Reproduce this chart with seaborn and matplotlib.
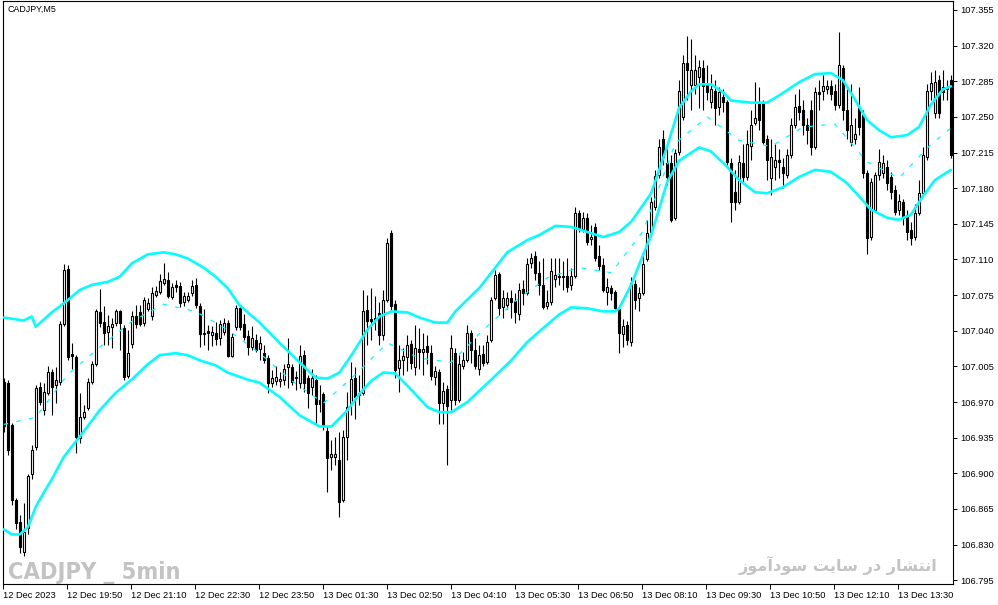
import numpy as np
import pandas as pd
import matplotlib
matplotlib.use("Agg")
import matplotlib.pyplot as plt
import seaborn as sns

# ---------------- data (CADJPY, M5) ----------------
open_ = [
 106.990, 106.989, 106.947, 106.874, 106.852, 106.823, 106.846, 106.899, 106.926, 106.985,
 106.962, 106.979, 106.999, 106.987, 106.990, 107.047, 107.101, 107.017, 107.014, 106.935,
 106.955, 106.964, 106.990, 107.007, 107.058, 107.049, 107.039, 107.044, 107.048, 107.059,
 107.043, 106.996, 107.027, 107.054, 107.058, 107.048, 107.061, 107.054, 107.075, 107.078,
 107.087, 107.090, 107.073, 107.085, 107.084, 107.068, 107.070, 107.077, 107.085, 107.064,
 107.038, 107.040, 107.036, 107.038, 107.033, 107.039, 107.048, 107.015, 107.044, 107.062,
 107.047, 107.035, 107.024, 107.031, 107.022, 107.018, 107.013, 106.989, 106.991, 106.991,
 106.992, 107.004, 107.004, 106.995, 106.989, 107.016, 106.994, 106.985, 106.992, 106.968,
 106.978, 106.942, 106.916, 106.916, 106.913, 106.874, 106.936, 106.969, 106.994, 106.977,
 106.979, 107.060, 107.052, 107.051, 107.057, 107.036, 107.070, 107.136, 107.066, 107.003,
 107.011, 107.014, 107.027, 107.004, 107.022, 107.019, 107.025, 107.018, 106.995, 106.999,
 106.969, 106.983, 106.972, 107.018, 106.972, 107.005, 107.011, 107.038, 107.021, 107.002,
 107.017, 107.009, 107.031, 107.072, 107.096, 107.063, 107.065, 107.072, 107.069, 107.056,
 107.081, 107.077, 107.107, 107.113, 107.097, 107.085, 107.064, 107.068, 107.091, 107.094,
 107.094, 107.094, 107.085, 107.094, 107.156, 107.140, 107.151, 107.130, 107.142, 107.113,
 107.105, 107.078, 107.082, 107.078, 107.061, 107.037, 107.046, 107.029, 107.086, 107.072,
 107.077, 107.110, 107.137, 107.162, 107.193, 107.228, 107.205, 107.205, 107.151, 107.216,
 107.250, 107.303, 107.281, 107.281, 107.289, 107.298, 107.282, 107.265, 107.275, 107.260,
 107.270, 107.265, 107.205, 107.176, 107.166, 107.205, 107.191, 107.221, 107.244, 107.265,
 107.264, 107.228, 107.190, 107.201, 107.208, 107.201, 107.193, 107.213, 107.242, 107.261,
 107.257, 107.242, 107.257, 107.220, 107.274, 107.275, 107.277, 107.280, 107.275, 107.262,
 107.298, 107.257, 107.225, 107.228, 107.259, 107.252, 107.195, 107.132, 107.159, 107.193,
 107.195, 107.201, 107.191, 107.178, 107.159, 107.166, 107.154, 107.139, 107.132, 107.156,
 107.175, 107.211, 107.275, 107.254, 107.286, 107.279, 107.279, 107.286,
]
high = [
 106.994, 106.992, 106.949, 106.876, 106.859, 106.871, 106.899, 106.928, 106.987, 106.990,
 106.989, 107.005, 107.002, 107.004, 107.050, 107.106, 107.105, 107.028, 107.016, 106.979,
 106.967, 106.994, 107.010, 107.061, 107.081, 107.064, 107.055, 107.053, 107.061, 107.060,
 107.046, 107.041, 107.059, 107.065, 107.065, 107.073, 107.072, 107.083, 107.084, 107.096,
 107.107, 107.098, 107.087, 107.090, 107.088, 107.078, 107.078, 107.090, 107.092, 107.067,
 107.061, 107.046, 107.045, 107.049, 107.051, 107.053, 107.051, 107.038, 107.065, 107.065,
 107.056, 107.041, 107.045, 107.037, 107.035, 107.026, 107.016, 107.001, 107.005, 106.999,
 107.007, 107.033, 107.007, 107.000, 107.026, 107.021, 106.997, 107.002, 106.997, 106.987,
 106.980, 106.946, 106.933, 106.936, 106.941, 106.943, 106.980, 107.009, 107.004, 106.997,
 107.080, 107.075, 107.082, 107.074, 107.068, 107.080, 107.131, 107.139, 107.070, 107.026,
 107.023, 107.036, 107.031, 107.046, 107.043, 107.038, 107.036, 107.026, 107.005, 107.002,
 106.990, 106.987, 107.036, 107.023, 107.016, 107.019, 107.046, 107.041, 107.033, 107.026,
 107.026, 107.036, 107.073, 107.100, 107.098, 107.080, 107.078, 107.080, 107.077, 107.087,
 107.090, 107.111, 107.116, 107.118, 107.108, 107.111, 107.080, 107.111, 107.111, 107.111,
 107.108, 107.111, 107.102, 107.162, 107.159, 107.157, 107.156, 107.144, 107.146, 107.124,
 107.111, 107.092, 107.085, 107.080, 107.065, 107.052, 107.050, 107.093, 107.090, 107.083,
 107.115, 107.149, 107.171, 107.198, 107.228, 107.237, 107.218, 107.213, 107.218, 107.286,
 107.311, 107.329, 107.326, 107.311, 107.306, 107.306, 107.301, 107.292, 107.286, 107.279,
 107.277, 107.267, 107.210, 107.198, 107.213, 107.223, 107.237, 107.257, 107.284, 107.279,
 107.267, 107.232, 107.228, 107.223, 107.218, 107.210, 107.218, 107.249, 107.272, 107.277,
 107.267, 107.249, 107.267, 107.279, 107.286, 107.291, 107.286, 107.286, 107.282, 107.333,
 107.301, 107.277, 107.282, 107.249, 107.279, 107.257, 107.198, 107.190, 107.196, 107.218,
 107.213, 107.208, 107.196, 107.183, 107.174, 107.169, 107.159, 107.147, 107.164, 107.188,
 107.220, 107.282, 107.294, 107.296, 107.291, 107.296, 107.286, 107.291,
]
low = [
 106.941, 106.918, 106.869, 106.845, 106.822, 106.819, 106.840, 106.894, 106.923, 106.967,
 106.957, 106.977, 106.957, 106.969, 106.987, 107.045, 107.011, 107.002, 106.920, 106.930,
 106.953, 106.962, 106.988, 107.005, 107.044, 107.026, 107.026, 107.023, 107.045, 107.021,
 106.992, 106.994, 107.023, 107.043, 107.045, 107.045, 107.059, 107.051, 107.073, 107.076,
 107.085, 107.072, 107.071, 107.078, 107.063, 107.064, 107.068, 107.074, 107.062, 107.024,
 107.026, 107.021, 107.025, 107.026, 107.026, 107.036, 107.014, 107.014, 107.041, 107.041,
 107.031, 107.016, 107.021, 107.019, 107.011, 107.008, 106.979, 106.985, 106.987, 106.985,
 106.987, 106.984, 106.987, 106.982, 106.984, 106.980, 106.964, 106.977, 106.948, 106.960,
 106.943, 106.882, 106.903, 106.908, 106.857, 106.872, 106.913, 106.957, 106.953, 106.967,
 106.977, 107.026, 107.031, 107.041, 107.026, 107.031, 107.068, 107.060, 106.994, 106.980,
 106.997, 107.000, 107.002, 106.997, 107.002, 106.997, 107.007, 106.992, 106.987, 106.948,
 106.948, 106.908, 106.962, 106.967, 106.970, 107.002, 107.009, 107.008, 107.002, 106.997,
 107.005, 107.007, 107.029, 107.070, 107.055, 107.053, 107.061, 107.053, 107.048, 107.051,
 107.065, 107.075, 107.102, 107.090, 107.075, 107.061, 107.061, 107.065, 107.083, 107.085,
 107.080, 107.078, 107.080, 107.092, 107.137, 107.137, 107.124, 107.124, 107.108, 107.100,
 107.078, 107.065, 107.070, 107.061, 107.018, 107.024, 107.026, 107.025, 107.061, 107.059,
 107.075, 107.108, 107.134, 107.159, 107.190, 107.203, 107.183, 107.147, 107.149, 107.213,
 107.247, 107.267, 107.257, 107.272, 107.259, 107.257, 107.267, 107.259, 107.242, 107.252,
 107.255, 107.203, 107.147, 107.159, 107.164, 107.186, 107.188, 107.208, 107.242, 107.237,
 107.223, 107.188, 107.173, 107.188, 107.190, 107.180, 107.190, 107.210, 107.239, 107.247,
 107.232, 107.223, 107.213, 107.218, 107.257, 107.267, 107.272, 107.267, 107.257, 107.259,
 107.247, 107.228, 107.221, 107.223, 107.232, 107.190, 107.115, 107.129, 107.157, 107.188,
 107.190, 107.178, 107.169, 107.154, 107.154, 107.144, 107.129, 107.124, 107.129, 107.154,
 107.174, 107.208, 107.267, 107.249, 107.249, 107.267, 107.267, 107.210,
]
close = [
 106.946, 106.923, 106.874, 106.851, 106.828, 106.842, 106.897, 106.923, 106.984, 106.970,
 106.980, 106.999, 106.985, 106.992, 107.047, 107.100, 107.014, 107.015, 106.936, 106.955,
 106.960, 106.990, 107.007, 107.059, 107.048, 107.038, 107.045, 107.047, 107.059, 107.048,
 106.995, 107.018, 107.054, 107.047, 107.047, 107.070, 107.067, 107.077, 107.079, 107.089,
 107.091, 107.074, 107.083, 107.083, 107.067, 107.074, 107.074, 107.084, 107.065, 107.037,
 107.037, 107.038, 107.039, 107.032, 107.047, 107.048, 107.015, 107.034, 107.062, 107.044,
 107.034, 107.024, 107.033, 107.021, 107.028, 107.011, 106.989, 106.994, 106.995, 106.993,
 107.002, 107.007, 106.990, 106.994, 107.015, 106.989, 106.979, 106.994, 106.968, 106.972,
 106.946, 106.915, 106.919, 106.919, 106.872, 106.936, 106.965, 106.993, 106.975, 106.979,
 107.059, 107.050, 107.050, 107.053, 107.036, 107.070, 107.126, 107.064, 107.001, 107.011,
 107.015, 107.026, 107.008, 107.023, 107.019, 107.022, 107.019, 106.996, 107.000, 106.969,
 106.981, 106.966, 107.023, 106.972, 107.007, 107.011, 107.038, 107.021, 107.005, 107.016,
 107.008, 107.029, 107.070, 107.095, 107.062, 107.072, 107.072, 107.068, 107.058, 107.080,
 107.077, 107.106, 107.111, 107.097, 107.085, 107.063, 107.068, 107.099, 107.095, 107.093,
 107.093, 107.083, 107.094, 107.156, 107.140, 107.151, 107.127, 107.132, 107.111, 107.104,
 107.080, 107.083, 107.077, 107.062, 107.038, 107.045, 107.031, 107.087, 107.070, 107.077,
 107.106, 107.136, 107.166, 107.192, 107.220, 107.211, 107.191, 107.149, 107.215, 107.275,
 107.303, 107.296, 107.296, 107.296, 107.299, 107.280, 107.274, 107.277, 107.259, 107.274,
 107.265, 107.206, 107.166, 107.166, 107.206, 107.191, 107.223, 107.242, 107.249, 107.247,
 107.225, 107.208, 107.211, 107.208, 107.206, 107.195, 107.213, 107.242, 107.260, 107.255,
 107.242, 107.237, 107.220, 107.274, 107.272, 107.280, 107.280, 107.272, 107.262, 107.301,
 107.257, 107.237, 107.242, 107.233, 107.240, 107.195, 107.131, 107.186, 107.193, 107.206,
 107.205, 107.185, 107.176, 107.157, 107.167, 107.151, 107.137, 107.131, 107.156, 107.175,
 107.213, 107.275, 107.283, 107.284, 107.254, 107.274, 107.277, 107.213,
]

# Band (envelope) values read at selected bars
upper_bar = [0, 5, 7, 8, 12, 16, 19, 22, 26, 29, 32, 36, 40, 43, 46, 50, 53, 56, 59, 64,
             69, 74, 78, 81, 84, 87, 91, 94, 97, 101, 104, 108, 111, 113, 119, 126, 131, 134,
             138, 142, 146, 150, 154, 157, 162, 166, 169, 172, 174, 177, 180, 182, 187, 191,
             194, 199, 203, 207, 210, 213, 216, 219, 222, 226, 229, 232, 235, 237]
upper_val = [107.053, 107.050, 107.054, 107.044, 107.058, 107.070, 107.080, 107.085, 107.088,
             107.093, 107.106, 107.115, 107.117, 107.115, 107.111, 107.102, 107.093, 107.082,
             107.065, 107.048, 107.028, 107.009, 106.994, 106.993, 106.999, 107.016, 107.041,
             107.054, 107.059, 107.058, 107.053, 107.048, 107.048, 107.059, 107.082, 107.117,
             107.129, 107.134, 107.143, 107.142, 107.137, 107.132, 107.137, 107.147, 107.175,
             107.221, 107.259, 107.275, 107.282, 107.282, 107.274, 107.266, 107.264, 107.264,
             107.271, 107.284, 107.292, 107.293, 107.286, 107.267, 107.247, 107.237, 107.230,
             107.232, 107.240, 107.262, 107.277, 107.280]
lower_bar = [0, 2, 4, 6, 8, 10, 12, 15, 17, 20, 24, 28, 32, 36, 39, 43, 46, 49, 53, 56, 61,
             64, 69, 74, 79, 82, 86, 89, 92, 95, 98, 102, 106, 109, 112, 116, 122, 127, 131,
             136, 139, 142, 146, 150, 153, 154, 157, 159, 162, 166, 169, 174, 177, 181, 184,
             188, 191, 195, 199, 203, 207, 211, 214, 217, 221, 224, 227, 230, 233, 237]
lower_val = [106.845, 106.840, 106.840, 106.847, 106.867, 106.881, 106.894, 106.916, 106.926,
             106.941, 106.962, 106.979, 106.992, 107.007, 107.016, 107.018, 107.016, 107.011,
             107.006, 106.999, 106.992, 106.989, 106.975, 106.957, 106.946, 106.946, 106.962,
             106.978, 106.991, 106.999, 106.998, 106.982, 106.965, 106.960, 106.960, 106.970,
             106.992, 107.011, 107.029, 107.046, 107.056, 107.063, 107.062, 107.059, 107.059,
             107.062, 107.085, 107.105, 107.134, 107.186, 107.207, 107.220, 107.216, 107.201,
             107.188, 107.176, 107.175, 107.181, 107.191, 107.198, 107.196, 107.185, 107.172,
             107.159, 107.151, 107.149, 107.154, 107.172, 107.188, 107.198]
mid_bar = [0, 8, 16, 24, 32, 40, 48, 56, 64, 72, 80, 88, 96, 104, 112, 120, 128, 136, 144,
           152, 160, 168, 176, 184, 192, 200, 208, 216, 224, 232, 237]
mid_val = [106.948, 106.955, 106.997, 107.024, 107.049, 107.066, 107.059, 107.041, 107.018,
           106.991, 106.969, 106.997, 107.028, 107.013, 107.009, 107.041, 107.069, 107.092,
           107.102, 107.097, 107.138, 107.224, 107.250, 107.227, 107.221, 107.240, 107.243,
           107.206, 107.190, 107.223, 107.239]

x_tick_bars = [0, 16, 32, 48, 64, 80, 96, 112, 128, 144, 160, 176, 192, 208, 224]
x_tick_labels = ["12 Dec 2023", "12 Dec 19:50", "12 Dec 21:10", "12 Dec 22:30",
                 "12 Dec 23:50", "13 Dec 01:30", "13 Dec 02:50", "13 Dec 04:10",
                 "13 Dec 05:30", "13 Dec 06:50", "13 Dec 08:10", "13 Dec 09:30",
                 "13 Dec 10:50", "13 Dec 12:10", "13 Dec 13:30"]
y_ticks = [106.795, 106.830, 106.865, 106.900, 106.935, 106.970, 107.005, 107.040, 107.075,
           107.110, 107.145, 107.180, 107.215, 107.250, 107.285, 107.320, 107.355]

title_text = "CADJPY,M5"
watermark_left = "CADJPY _ 5min"
watermark_right = "انتشار در سایت سودآموز"

assert len(open_) == len(high) == len(low) == len(close)
assert len(upper_bar) == len(upper_val) and len(lower_bar) == len(lower_val) and len(mid_bar) == len(mid_val)

# ---------------- Persian shaping (presentation forms) ----------------
_forms = {
    'ا': ('\uFE8D', '\uFE8E', None, None),
    'آ': ('\uFE81', '\uFE82', None, None),
    'ن': ('\uFEE5', '\uFEE6', '\uFEE7', '\uFEE8'),
    'ت': ('\uFE95', '\uFE96', '\uFE97', '\uFE98'),
    'ش': ('\uFEB5', '\uFEB6', '\uFEB7', '\uFEB8'),
    'ر': ('\uFEAD', '\uFEAE', None, None),
    'د': ('\uFEA9', '\uFEAA', None, None),
    'س': ('\uFEB1', '\uFEB2', '\uFEB3', '\uFEB4'),
    'ی': ('\uFBFC', '\uFBFD', '\uFBFE', '\uFBFF'),
    'و': ('\uFEED', '\uFEEE', None, None),
    'م': ('\uFEE1', '\uFEE2', '\uFEE3', '\uFEE4'),
    'ز': ('\uFEAF', '\uFEB0', None, None),
}


def shape_rtl(text):
    out = []
    n = len(text)
    for i, ch in enumerate(text):
        if ch not in _forms:
            out.append(ch)
            continue
        f = _forms[ch]
        prev_j = i > 0 and text[i - 1] in _forms and _forms[text[i - 1]][2] is not None
        next_j = i < n - 1 and text[i + 1] in _forms and f[2] is not None
        if prev_j and next_j:
            out.append(f[3])
        elif prev_j:
            out.append(f[1])
        elif next_j:
            out.append(f[2])
        else:
            out.append(f[0])
    return "".join(out)[::-1]


# ---------------- plotting ----------------
sns.set_theme(style="white")
plt.rcParams["font.family"] = ["Liberation Sans", "DejaVu Sans"]
plt.rcParams["lines.scale_dashes"] = False

df = pd.DataFrame({"bar": np.arange(len(close)), "open": open_, "high": high,
                   "low": low, "close": close})

fig = plt.figure(figsize=(9.98, 6.05), dpi=100)
fig.patch.set_facecolor("white")
ax = fig.add_axes([3 / 998, 21 / 605, 949.5 / 998, 583 / 605])
ax.set_facecolor("white")

# wicks
ax.vlines(df["bar"], df["low"], df["high"], color="black", linewidth=0.8, zorder=2)
# bodies
up = df["close"] >= df["open"]
body_bottom = np.minimum(df["open"], df["close"])
body_height = (df["close"] - df["open"]).abs()
ax.bar(df["bar"], body_height, bottom=body_bottom, width=0.5,
       color=np.where(up, "white", "black"), edgecolor="black", linewidth=0.8, zorder=3)

# bands
cyan = "#00FFFF"
sns.lineplot(x=upper_bar, y=upper_val, ax=ax, color=cyan, linewidth=1.9, zorder=4,
             estimator=None, sort=False)
sns.lineplot(x=lower_bar, y=lower_val, ax=ax, color=cyan, linewidth=1.9, zorder=4,
             estimator=None, sort=False)
sns.lineplot(x=mid_bar, y=mid_val, ax=ax, color=cyan, linewidth=0.9, zorder=4,
             estimator=None, sort=False, linestyle=(0, (3.2, 6.0)))

# axes limits and ticks
ax.set_xlim(-0.2, 237.4)
ax.set_ylim(106.7913, 107.3638)
ax.yaxis.tick_right()
ax.set_yticks(y_ticks)
ax.set_yticklabels([f"{v:.3f}" for v in y_ticks])
ax.set_xticks([b - 0.2 for b in x_tick_bars])
ax.set_xticklabels(x_tick_labels, ha="left")
ax.tick_params(axis="y", direction="out", length=3, width=0.7, pad=2.5,
               labelsize=6.7, colors="black", right=True, left=False)
ax.tick_params(axis="x", direction="out", length=3.5, width=0.7, pad=1.5,
               labelsize=6.7, colors="black", bottom=True)
for lab in ax.get_xticklabels():
    lab.set_horizontalalignment("left")
ax.set_xlabel("")
ax.set_ylabel("")
ax.grid(False)
for s in ax.spines.values():
    s.set_visible(True)
    s.set_color("black")
    s.set_linewidth(0.8)

# texts
ax.text(0.0045, 0.993, title_text, transform=ax.transAxes, ha="left", va="top",
        fontsize=6.4, color="black")
wm_left = ax.text(0.005, 0.0086, watermark_left, transform=ax.transAxes, ha="left",
                  va="baseline", fontsize=20, fontweight="bold", fontstretch="condensed",
                  color="#C3C3C3", family=["DejaVu Sans"], zorder=1)
wm_right = ax.text(0.984, 0.022, shape_rtl(watermark_right), transform=ax.transAxes,
                   ha="right", va="baseline", fontsize=15, fontweight="bold",
                   color="#C3C3C3", family=["DejaVu Sans"], zorder=1)

# fit watermark widths to the reference footprint (pixels)
fig.canvas.draw()
renderer = fig.canvas.get_renderer()
for txt, target_w in ((wm_left, 172.0), (wm_right, 199.0)):
    w = txt.get_window_extent(renderer).width
    txt.set_fontsize(txt.get_fontsize() * target_w / w)

fig.savefig("out.png", dpi=100, facecolor="white")
